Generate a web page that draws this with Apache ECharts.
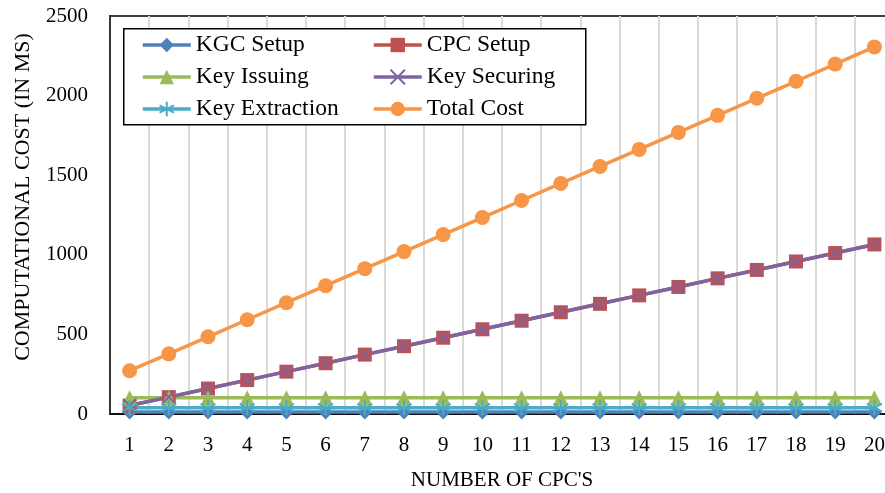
<!DOCTYPE html>
<html>
<head>
<meta charset="utf-8">
<script src="https://cdn.jsdelivr.net/npm/echarts@6/dist/echarts.min.js"></script>
<style>
  html, body { margin: 0; padding: 0; background: #fff; }
  #chart { width: 885px; height: 493px; }
</style>
</head>
<body>
<div id="chart"></div>
<script>
// values
const cpcCount = ['1','2','3','4','5','6','7','8','9','10','11','12','13','14','15','16','17','18','19','20'];
const kgcSetup = [13,13,13,13,13,13,13,13,13,13,13,13,13,13,13,13,13,13,13,13];
const cpcSetup = [53,106,160,213,266,319,373,426,479,532,586,639,692,745,798,852,905,958,1011,1065];
const keyIssuing = [102,102,102,102,102,102,102,102,102,102,102,102,102,102,102,102,102,102,102,102];
const keySecuring = [53,106,160,213,266,319,373,426,479,532,586,639,692,745,798,852,905,958,1011,1065];
const keyExtraction = [40,40,40,40,40,40,40,40,40,40,40,40,40,40,40,40,40,40,40,40];
const totalCost = [272,378,485,592,699,806,913,1020,1127,1234,1341,1448,1555,1662,1769,1876,1983,2090,2198,2306];

const serif = '"Liberation Serif", "DejaVu Serif", serif';

const crossPath = 'path://M0,0L10,10M10,0L0,10';
const starPath = 'path://M5,0L5,10M0.7,2.5L9.3,7.5M0.7,7.5L9.3,2.5';

function mkSeries(name, data, color, symbol, size, stroked) {
  return {
    name: name,
    type: 'line',
    data: data,
    symbol: symbol,
    symbolSize: size,
    lineStyle: { width: 3.5, color: color },
    itemStyle: stroked ? { color: color, borderColor: color, borderWidth: 2 } : { color: color },
    emphasis: { disabled: true },
    animation: false
  };
}

function mkLegend(left, names) {
  return {
    left: left, top: 33,
    orient: 'vertical',
    padding: 0,
    itemWidth: 48, itemHeight: 18,
    itemGap: 8,
    lineStyle: { width: 3.5 },
    textStyle: { fontFamily: serif, fontSize: 23.5, color: '#000' },
    z: 10,
    data: names
  };
}

const chart = echarts.init(document.getElementById('chart'));
chart.setOption({
  backgroundColor: '#fff',
  grid: { left: 110, top: 16, width: 784, height: 398, outerBoundsMode: 'none', show: true, borderColor: '#000', borderWidth: 1.5 },
  graphic: [{
    type: 'rect', left: 123, top: 28,
    shape: { width: 462, height: 96 },
    style: { fill: '#fff', stroke: '#000', lineWidth: 1.5 },
    z: 5
  }],
  legend: [
    mkLegend(141, ['KGC Setup', 'Key Issuing', 'Key Extraction']),
    mkLegend(372, ['CPC Setup', 'Key Securing', 'Total Cost'])
  ],
  xAxis: {
    type: 'category',
    data: cpcCount,
    boundaryGap: true,
    name: "NUMBER OF CPC'S",
    nameLocation: 'middle',
    nameGap: 56,
    nameTextStyle: { fontFamily: serif, fontSize: 21, color: '#000' },
    axisLine: { lineStyle: { color: '#000', width: 1.5 } },
    axisTick: { show: false },
    axisLabel: { fontFamily: serif, fontSize: 21, color: '#000', margin: 21 },
    splitLine: { show: true, lineStyle: { color: '#d9d9d9', width: 2 } }
  },
  yAxis: {
    type: 'value',
    min: 0, max: 2500, interval: 500,
    name: 'COMPUTATIONAL COST (IN MS)',
    nameLocation: 'middle',
    nameGap: 76,
    nameTextStyle: { fontFamily: serif, fontSize: 22, color: '#000', padding: [0, 0, 0, 36] },
    axisLine: { show: true, lineStyle: { color: '#000', width: 1.5 } },
    axisTick: { show: false },
    axisLabel: { fontFamily: serif, fontSize: 21, color: '#000', margin: 22, formatter: function (v) { return String(v); } },
    splitLine: { show: false }
  },
  series: [
    mkSeries('KGC Setup', kgcSetup, '#4f81bd', 'diamond', 15, false),
    mkSeries('CPC Setup', cpcSetup, '#c0504d', 'rect', 14, false),
    mkSeries('Key Issuing', keyIssuing, '#9bbb59', 'triangle', 15, false),
    mkSeries('Key Securing', keySecuring, '#8064a2', crossPath, 12, true),
    mkSeries('Key Extraction', keyExtraction, '#4bacc6', starPath, 15, true),
    mkSeries('Total Cost', totalCost, '#f79646', 'circle', 15, false)
  ]
});
</script>
</body>
</html>
